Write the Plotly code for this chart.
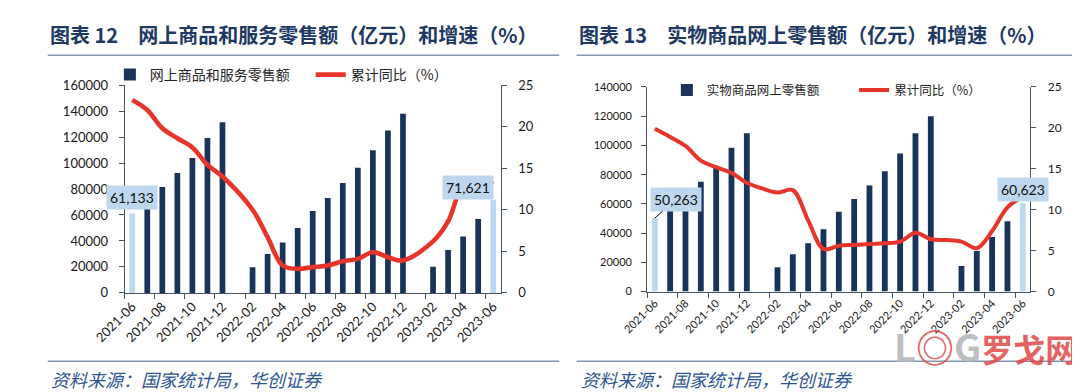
import plotly.graph_objects as go

# ---------------- data ----------------
months = ["2021-06", "2021-07", "2021-08", "2021-09", "2021-10", "2021-11", "2021-12",
          "2022-01", "2022-02", "2022-03", "2022-04", "2022-05", "2022-06", "2022-07",
          "2022-08", "2022-09", "2022-10", "2022-11", "2022-12",
          "2023-01", "2023-02", "2023-03", "2023-04", "2023-05", "2023-06"]
tick_labels = months[::2]

online_sales = [61133, 71500, 81500, 92300, 103900, 119200, 131400, None, 19700, 30000,
                38900, 49900, 63100, 73100, 84700, 96300, 109800, 125100, 137900, None,
                20200, 33000, 43400, 56900, 71621]
online_growth = [23.2, 22.0, 19.8, 18.6, 17.5, 15.4, 14.0, None, 10.0, 6.7, 3.3, 2.9, 3.1,
                 3.3, 3.8, 4.1, 4.9, 4.3, 3.9, None, 6.2, 8.6, 13.0, 13.8, 13.1]

physical_sales = [50263, 57900, 66000, 75200, 85300, 98400, 108300, None, 16600, 25600,
                  33000, 42700, 54600, 63400, 72600, 82400, 94500, 108300, 120000, None,
                  17500, 27800, 37400, 48100, 60623]
physical_growth = [19.9, 18.9, 17.8, 16.0, 15.2, 14.5, 13.3, 12.6, 12.1, 12.4, 8.7, 5.2, 5.6,
                   5.7, 5.8, 5.9, 6.1, 7.2, 6.4, 6.3, 6.1, 5.3, 7.4, 10.3, 11.6]

left_title = "图表 12　网上商品和服务零售额（亿元）和增速（%）"
right_title = "图表 13　实物商品网上零售额（亿元）和增速（%）"
source_text = "资料来源：国家统计局，华创证券"
left_bar_name = "网上商品和服务零售额"
right_bar_name = "实物商品网上零售额"
line_name = "累计同比（%）"

# ---------------- style ----------------
W, H = 1080, 392
NAVY = "#1A3358"
LIGHT = "#BDD7EE"
RED = "#E8352B"
AXIS = "#44546A"
TITLE_C = "#203864"
SEP_C = "#8497B0"
SRC_C = "#2F5597"
CJK = "Noto Sans CJK SC"
NUM = "Lato"


def px_x(p):
    return p / W


def px_y(p):
    return (H - p) / H


def split_highlight(vals):
    """Return (regular, highlighted) copies: first and last months highlighted."""
    n = len(vals)
    reg = [None if i in (0, n - 1) else v for i, v in enumerate(vals)]
    hi = [v if i in (0, n - 1) else None for i, v in enumerate(vals)]
    return reg, hi


fig = go.Figure()

on_reg, on_hi = split_highlight(online_sales)
ph_reg, ph_hi = split_highlight(physical_sales)

# left panel
fig.add_trace(go.Bar(x=months, y=on_reg, name=left_bar_name, xaxis="x", yaxis="y",
                     marker=dict(color=NAVY, line=dict(width=0)), width=0.38, legend="legend"))
fig.add_trace(go.Bar(x=months, y=on_hi, name=left_bar_name, xaxis="x", yaxis="y",
                     marker=dict(color=LIGHT, line=dict(width=0)), width=0.38, showlegend=False))
fig.add_trace(go.Scatter(x=months, y=online_growth, name=line_name, xaxis="x", yaxis="y2",
                         mode="lines", line=dict(color=RED, width=4.6, shape="spline", smoothing=1.0),
                         connectgaps=True, legend="legend2"))
# right panel
fig.add_trace(go.Bar(x=months, y=ph_reg, name=right_bar_name, xaxis="x2", yaxis="y3",
                     marker=dict(color=NAVY, line=dict(width=0)), width=0.38, legend="legend3"))
fig.add_trace(go.Bar(x=months, y=ph_hi, name=right_bar_name, xaxis="x2", yaxis="y3",
                     marker=dict(color=LIGHT, line=dict(width=0)), width=0.38, showlegend=False))
fig.add_trace(go.Scatter(x=months, y=physical_growth, name=line_name, xaxis="x2", yaxis="y4",
                         mode="lines", line=dict(color=RED, width=4, shape="spline", smoothing=1.0),
                         connectgaps=True, legend="legend4"))


def xaxis_cfg(domain, anchor, size):
    return dict(domain=domain, anchor=anchor, type="category", categoryorder="array",
                categoryarray=months, tickmode="array", tickvals=tick_labels, ticktext=tick_labels,
                tickson="boundaries", tickangle=-45, ticks="outside", ticklen=5, tickcolor=AXIS,
                showline=True, linecolor=AXIS, linewidth=1, showgrid=False, zeroline=False,
                tickfont=dict(family=NUM, size=size, color="#1a1a1a"), range=[-0.5, 24.5],
                fixedrange=True)


def yaxis_cfg(domain, anchor, rng, dtick, size, side="left", overlay=None, standoff=6):
    d = dict(domain=domain, anchor=anchor, range=rng, dtick=dtick, tick0=0, tickmode="linear",
             tickformat="d", side=side, ticks="outside", ticklen=5, tickcolor=AXIS, showline=True,
             linecolor=AXIS, linewidth=1, showgrid=False, zeroline=False,
             tickfont=dict(family=NUM, size=size, color="#1a1a1a"), fixedrange=True,
             ticklabelstandoff=standoff)
    if overlay:
        d["overlaying"] = overlay
    return d


L_XD = [px_x(87.3), px_x(474.8)]
L_YD = [px_y(288.7), px_y(72)]
R_XD = [px_x(625.7), px_x(1020.7)]
R_YD = [px_y(287.3), px_y(74)]


def legend_cfg(x0, yc, size):
    return dict(x=px_x(x0), y=px_y(yc), xanchor="left", yanchor="middle", orientation="h",
                bgcolor="rgba(0,0,0,0)", borderwidth=0, itemwidth=30,
                font=dict(family=CJK, size=size, color="#262626"))


annotations = [
    dict(text=left_title, x=px_x(8), y=px_y(19), xref="paper", yref="paper", xanchor="left",
         yanchor="middle", showarrow=False,
         font=dict(family=CJK, size=20, color=TITLE_C, weight="bold")),
    dict(text=right_title, x=px_x(553), y=px_y(19), xref="paper", yref="paper", xanchor="left",
         yanchor="middle", showarrow=False,
         font=dict(family=CJK, size=20, color=TITLE_C, weight="bold")),
    dict(text=source_text, x=px_x(9), y=px_y(378), xref="paper", yref="paper", xanchor="left",
         yanchor="middle", showarrow=False,
         font=dict(family=CJK, size=18, color=SRC_C, style="italic")),
    dict(text=source_text, x=px_x(555), y=px_y(378), xref="paper", yref="paper", xanchor="left",
         yanchor="middle", showarrow=False,
         font=dict(family=CJK, size=18, color=SRC_C, style="italic")),
    # data labels
    dict(text=f"{online_sales[0]:,}", x=months[0], y=73600, xref="x", yref="y", showarrow=False,
         bgcolor=LIGHT, borderpad=3, font=dict(family=NUM, size=14, color="#111")),
    dict(text=f"{online_sales[-1]:,}", x=months[-1], y=81000, xref="x", yref="y", xshift=-25,
         showarrow=False, bgcolor=LIGHT, borderpad=3, font=dict(family=NUM, size=14, color="#111")),
    dict(text=f"{physical_sales[0]:,}", x=months[0], y=physical_sales[0], xref="x2", yref="y3",
         showarrow=True, arrowhead=0, arrowwidth=1, arrowcolor="#000", ax=21, ay=-19,
         bgcolor=LIGHT, borderpad=3, font=dict(family=NUM, size=14, color="#111")),
    dict(text=f"{physical_sales[-1]:,}", x=months[-1], y=69770, xref="x2", yref="y3",
         showarrow=False, bgcolor=LIGHT, borderpad=3, font=dict(family=NUM, size=14, color="#111")),
    # watermark
    dict(text=("<span style='color:#B0B4B8'>L</span><span style='color:#E04848'>◎</span>"
               "<span style='color:#B0B4B8'>G</span>"
               "<span style='color:#E04848;font-size:32px'>罗戈网</span>"),
         x=px_x(878), y=px_y(343), xref="paper", yref="paper", xanchor="left", yanchor="middle",
         showarrow=False, opacity=0.85,
         font=dict(family=CJK, size=38, color="#B0B4B8", weight="bold")),
]

shapes = [
    dict(type="line", xref="paper", yref="paper", x0=px_x(8), x1=px_x(535), y0=px_y(41), y1=px_y(41),
         line=dict(color=SEP_C, width=1.5)),
    dict(type="line", xref="paper", yref="paper", x0=px_x(553), x1=px_x(1074), y0=px_y(41), y1=px_y(41),
         line=dict(color=SEP_C, width=1.5)),
    dict(type="line", xref="paper", yref="paper", x0=px_x(8), x1=px_x(535), y0=px_y(360), y1=px_y(360),
         line=dict(color=SEP_C, width=1.5)),
    dict(type="line", xref="paper", yref="paper", x0=px_x(553), x1=px_x(1074), y0=px_y(360), y1=px_y(360),
         line=dict(color=SEP_C, width=1.5)),
]

fig.update_layout(
    width=W, height=H, margin=dict(l=0, r=0, t=0, b=0), paper_bgcolor="white", plot_bgcolor="white",
    barmode="overlay", showlegend=True,
    xaxis=xaxis_cfg(L_XD, "y", 13),
    yaxis=yaxis_cfg(L_YD, "x", [0, 160000], 20000, 13, standoff=8),
    yaxis2=yaxis_cfg(L_YD, "x", [0, 25], 5, 13, side="right", overlay="y", standoff=9),
    xaxis2=xaxis_cfg(R_XD, "y3", 11),
    yaxis3=yaxis_cfg(R_YD, "x2", [0, 140000], 20000, 11, standoff=7),
    yaxis4=yaxis_cfg(R_YD, "x2", [0, 25], 5, 12, side="right", overlay="y3", standoff=9),
    legend=legend_cfg(72, 61.5, 14),
    legend2=legend_cfg(279, 61.5, 14),
    legend3=legend_cfg(646, 77.5, 12.5),
    legend4=legend_cfg(839, 77.5, 12.5),
    annotations=annotations,
    shapes=shapes,
)

fig.write_html("out.html", config={"displayModeBar": False})
